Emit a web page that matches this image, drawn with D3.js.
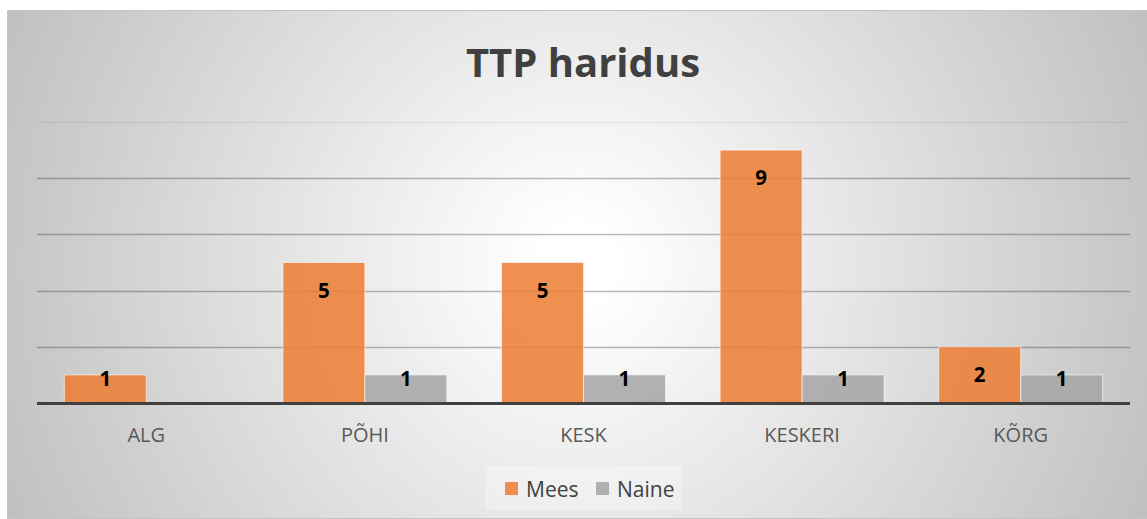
<!DOCTYPE html>
<html>
<head>
<meta charset="utf-8">
<script src="https://cdn.jsdelivr.net/npm/d3@7"></script>
<style>
  body { margin: 0; background: #fff; }
  svg { display: block; font-family: "Open Sans", sans-serif; }
</style>
</head>
<body>
<svg width="1147" height="519"></svg>
<script>
// chart data
const categories = ["ALG", "PÕHI", "KESK", "KESKERI", "KÕRG"];
const seriesNames = ["Mees", "Naine"];
const mees = [1, 5, 5, 9, 2];
const naine = [0, 1, 1, 1, 1];
const gridTicks = [2, 4, 6, 8, 10];
const title = "TTP haridus";

const colors = { Mees: "rgba(237,125,49,0.85)", Naine: "rgba(165,165,165,0.85)" };

const svg = d3.select("svg");

// background gradient
const defs = svg.append("defs");
const grad = defs.append("radialGradient")
    .attr("id", "bg")
    .attr("gradientUnits", "userSpaceOnUse")
    .attr("cx", 577).attr("cy", 264).attr("r", 624);
grad.append("stop").attr("offset", 0.06).attr("stop-color", "#ffffff");
grad.append("stop").attr("offset", 1).attr("stop-color", "#c0c0c0");

svg.append("rect")
    .attr("x", 7.5).attr("y", 10.5)
    .attr("width", 1140).attr("height", 508)
    .attr("fill", "url(#bg)")
    .attr("stroke", "#c4c4c4");

// title
svg.append("text")
    .attr("x", 583).attr("y", 77)
    .attr("text-anchor", "middle")
    .attr("font-size", 40).attr("font-weight", 700)
    .attr("fill", "#404040")
    .text(title);

const x = d3.scaleBand()
    .domain(categories)
    .range([37, 1130])
    .paddingInner(0.25)
    .paddingOuter(0.125);

const xs = d3.scaleBand()
    .domain(seriesNames)
    .range([0, x.bandwidth()]);

const y = d3.scaleLinear().domain([0, 10]).range([403, 122]);

// gridlines
svg.append("g").selectAll("line")
    .data(gridTicks)
    .join("line")
    .attr("x1", 37).attr("x2", 1130)
    .attr("y1", d => Math.round(y(d)) + 0.5)
    .attr("y2", d => Math.round(y(d)) + 0.5)
    .attr("stroke", d => d == 10 ? "rgba(0,0,0,0.06)" : "rgba(0,0,0,0.27)")
    .attr("stroke-width", 1.5);

// bars
const rows = categories.map((c, i) => ({ cat: c, Mees: mees[i], Naine: naine[i] }));

const groups = svg.append("g").selectAll("g")
    .data(rows)
    .join("g")
    .attr("transform", d => `translate(${x(d.cat)},0)`);

groups.selectAll("rect")
    .data(d => seriesNames.map(s => ({ s, v: d[s] })).filter(e => e.v > 0))
    .join("rect")
    .attr("x", d => xs(d.s))
    .attr("y", d => y(d.v))
    .attr("width", xs.bandwidth())
    .attr("height", d => y(0) - y(d.v))
    .attr("fill", d => colors[d.s])
    .attr("stroke", "rgba(255,255,255,0.6)")
    .attr("stroke-width", 1);

groups.selectAll("text")
    .data(d => seriesNames.map(s => ({ s, v: d[s] })).filter(e => e.v > 0))
    .join("text")
    .attr("x", d => xs(d.s) + xs.bandwidth() / 2)
    .attr("y", d => Math.min(y(d.v) + 35, y(0) - 17))
    .attr("text-anchor", "middle")
    .attr("font-size", 20.5).attr("font-weight", 700)
    .attr("fill", "#000")
    .text(d => d.v);

// axis line
svg.append("line")
    .attr("x1", 37).attr("x2", 1130)
    .attr("y1", 403.5).attr("y2", 403.5)
    .attr("stroke", "#404040").attr("stroke-width", 3);

// category labels
svg.append("g").selectAll("text")
    .data(categories)
    .join("text")
    .attr("x", d => x(d) + x.bandwidth() / 2)
    .attr("y", 442)
    .attr("text-anchor", "middle")
    .attr("font-size", 20)
    .attr("fill", "#595959")
    .text(d => d);

// legend
const legend = svg.append("g");
legend.append("rect")
    .attr("x", 485).attr("y", 466)
    .attr("width", 197).attr("height", 44)
    .attr("fill", "rgba(255,255,255,0.3)");

const legendItems = [{ s: "Mees", x: 505 }, { s: "Naine", x: 596 }];
legend.selectAll("rect.sw")
    .data(legendItems)
    .join("rect")
    .attr("class", "sw")
    .attr("x", d => d.x).attr("y", 482)
    .attr("width", 13).attr("height", 13)
    .attr("fill", d => colors[d.s]);
legend.selectAll("text")
    .data(legendItems)
    .join("text")
    .attr("x", d => d.x + 21).attr("y", 497)
    .attr("font-size", 21)
    .attr("fill", "#404040")
    .text(d => d.s);
</script>
</body>
</html>
